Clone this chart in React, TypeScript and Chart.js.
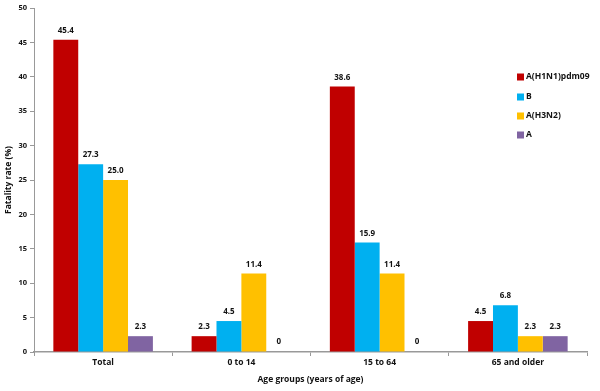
import React, { useEffect, useRef } from "react";
import { Chart, registerables } from "chart.js";
Chart.register(...registerables);

const categories = ["Total", "0 to 14", "15 to 64", "65 and older"];
const seriesNames = ["A(H1N1)pdm09", "B", "A(H3N2)", "A"];
const h1n1 = [45.4, 2.3, 38.6, 4.5];
const bVals = [27.3, 4.5, 15.9, 6.8];
const h3n2 = [25.0, 11.4, 11.4, 2.3];
const aVals = [2.3, 0, 0, 2.3];
const colors = ["#C00000", "#00B0F0", "#FFC000", "#8064A2"];
const yTicks = [0, 5, 10, 15, 20, 25, 30, 35, 40, 45, 50];

const FONT = "'Open Sans', sans-serif";

const fmt = (v: number) => (v === 0 ? "0" : v.toFixed(1));

const labelPlugin = {
  id: "labels",
  afterDatasetsDraw(chart: any) {
    const ctx = chart.ctx;
    ctx.save();
    ctx.font = `bold 8px ${FONT}`;
    ctx.fillStyle = "#111";
    ctx.textAlign = "center";
    ctx.textBaseline = "bottom";
    chart.data.datasets.forEach((ds: any, i: number) => {
      const meta = chart.getDatasetMeta(i);
      meta.data.forEach((el: any, j: number) => {
        const v = ds.data[j];
        ctx.fillText(fmt(v), el.x, el.y - (v === 0 ? 6 : 5));
      });
    });
    // legend
    const lx = 517;
    const ys = [77, 97, 116, 135];
    ctx.textAlign = "left";
    ctx.textBaseline = "middle";
    ctx.font = `bold 8.5px ${FONT}`;
    seriesNames.forEach((n, i) => {
      ctx.fillStyle = colors[i];
      ctx.fillRect(lx, ys[i] - 3.5, 7, 7);
      ctx.fillStyle = "#111";
      ctx.fillText(n, lx + 9, ys[i]);
    });
    ctx.restore();
  },
};

export default function App() {
  const ref = useRef<HTMLCanvasElement>(null);
  useEffect(() => {
    const chart = new Chart(ref.current!, {
      type: "bar",
      data: {
        labels: categories,
        datasets: [h1n1, bVals, h3n2, aVals].map((d, i) => ({
          label: seriesNames[i],
          data: d,
          backgroundColor: colors[i],
          barPercentage: 1,
          categoryPercentage: 0.72,
        })),
      },
      options: {
        responsive: false,
        animation: false,
        layout: { padding: { top: 8, right: 13, left: 3, bottom: 6 } },
        plugins: { legend: { display: false }, tooltip: { enabled: false } },
        scales: {
          x: {
            grid: { offset: true, drawOnChartArea: false, tickLength: 4, color: "#999" },
            border: { color: "#999", width: 1.5 },
            ticks: { color: "#111", font: { family: FONT, size: 8.5, weight: "bold" }, padding: 1 },
            title: {
              display: true,
              text: "Age groups (years of age)",
              color: "#111",
              font: { family: FONT, size: 8.5, weight: "bold" },
              padding: { top: 0, bottom: 0 },
            },
            afterFit: (s: any) => {
              s.height = 33;
            },
          },
          y: {
            min: 0,
            max: 50,
            afterBuildTicks: (s: any) => {
              s.ticks = yTicks.map((v) => ({ value: v }));
            },
            grid: { drawOnChartArea: false, tickLength: 4, color: "#999" },
            border: { color: "#999", width: 1 },
            ticks: { color: "#111", font: { family: FONT, size: 7.5, weight: "bold" }, padding: 3 },
            title: {
              display: true,
              text: "Fatality rate (%)",
              color: "#111",
              font: { family: FONT, size: 8.5, weight: "bold" },
              padding: { top: 0, bottom: 2 },
            },
            afterFit: (s: any) => {
              s.width = 31;
            },
          },
        },
      },
      plugins: [labelPlugin],
    } as any);
    return () => chart.destroy();
  }, []);
  return (
    <div style={{ position: "absolute", left: 0, top: 0, width: 600, height: 391, background: "#fff" }}>
      <canvas ref={ref} width={600} height={391} />
    </div>
  );
}
